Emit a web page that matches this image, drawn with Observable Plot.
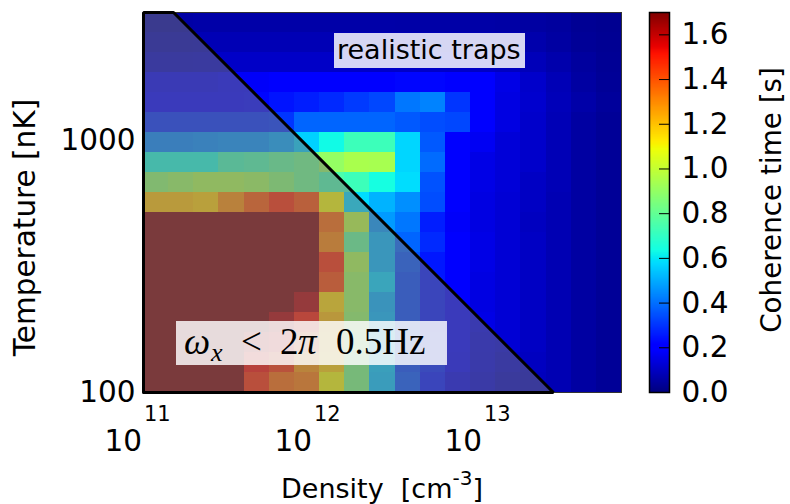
<!DOCTYPE html>
<html><head><meta charset="utf-8">
<script src="https://cdn.jsdelivr.net/npm/d3@7"></script>
<script src="https://cdn.jsdelivr.net/npm/@observablehq/plot@0.6"></script>
<style>
html,body{margin:0;padding:0;background:#fff;}
#wrap{position:relative;width:790px;height:504px;}
#wrap svg{position:absolute;left:0;top:0;}
.cells rect{shape-rendering:crispEdges;}
</style></head><body><div id="wrap"></div>
<script>
// ---- grid (log10 of cell edges) ----
const densityLogEdges = [11.000, 11.148, 11.296, 11.444, 11.592, 11.740, 11.888, 12.036, 12.184, 12.332, 12.480, 12.628, 12.776, 12.924, 13.072, 13.220, 13.368, 13.516, 13.664, 13.812];
const temperatureLogEdges = [2.000, 2.079, 2.159, 2.238, 2.317, 2.397, 2.476, 2.556, 2.635, 2.714, 2.794, 2.873, 2.952, 3.032, 3.111, 3.190, 3.270, 3.349, 3.429, 3.508];

// ---- coherence time [s], rows from highest temperature (top) to lowest (bottom) ----
const coherence = [
  [0.055,0.055,0.06,0.06,0.06,0.06,0.06,0.06,0.06,0.06,0.058,0.058,0.058,0.058,0.055,0.05,0.045,0.03,0.025],
  [0.075,0.075,0.078,0.078,0.078,0.078,0.078,0.078,0.078,0.078,0.078,0.078,0.078,0.078,0.075,0.065,0.05,0.035,0.028],
  [0.10,0.10,0.105,0.105,0.105,0.105,0.105,0.105,0.105,0.105,0.105,0.105,0.105,0.10,0.095,0.085,0.065,0.045,0.032],
  [0.17,0.17,0.17,0.18,0.18,0.19,0.19,0.20,0.20,0.21,0.22,0.22,0.205,0.19,0.15,0.11,0.08,0.05,0.035],
  [0.21,0.21,0.21,0.21,0.22,0.245,0.26,0.28,0.31,0.33,0.41,0.43,0.30,0.20,0.145,0.115,0.085,0.06,0.04],
  [0.29,0.29,0.29,0.29,0.29,0.30,0.38,0.38,0.38,0.38,0.36,0.34,0.33,0.19,0.145,0.11,0.08,0.05,0.035],
  [0.44,0.44,0.45,0.46,0.46,0.49,0.56,0.63,0.72,0.72,0.57,0.36,0.21,0.17,0.13,0.11,0.08,0.05,0.035],
  [0.65,0.65,0.65,0.73,0.75,0.79,0.82,0.90,0.945,0.94,0.57,0.39,0.20,0.15,0.13,0.11,0.08,0.05,0.035],
  [0.89,0.92,0.95,0.95,0.93,0.875,0.82,0.75,0.72,0.64,0.58,0.35,0.20,0.15,0.13,0.10,0.08,0.05,0.035],
  [1.20,1.20,1.18,1.29,1.39,1.47,1.41,1.10,0.58,0.51,0.45,0.34,0.19,0.145,0.125,0.10,0.075,0.05,0.035],
  [1.7,1.7,1.7,1.7,1.7,1.7,1.7,1.36,0.98,0.47,0.41,0.26,0.18,0.145,0.125,0.095,0.075,0.05,0.035],
  [1.7,1.7,1.7,1.7,1.7,1.7,1.7,1.31,0.80,0.52,0.38,0.28,0.19,0.15,0.125,0.10,0.075,0.05,0.035],
  [1.7,1.7,1.7,1.7,1.7,1.7,1.7,1.47,0.95,0.52,0.35,0.25,0.19,0.15,0.125,0.10,0.075,0.05,0.035],
  [1.7,1.7,1.7,1.7,1.7,1.7,1.7,1.42,0.92,0.57,0.33,0.25,0.19,0.145,0.125,0.10,0.075,0.05,0.035],
  [1.7,1.7,1.7,1.7,1.7,1.7,1.62,1.16,0.92,0.51,0.33,0.25,0.19,0.145,0.125,0.10,0.075,0.05,0.035],
  [1.7,1.7,1.7,1.7,1.7,1.62,1.50,1.21,0.90,0.52,0.33,0.25,0.19,0.15,0.125,0.10,0.075,0.05,0.035],
  [1.7,1.7,1.7,1.7,1.60,1.55,1.40,1.20,0.88,0.53,0.33,0.26,0.19,0.14,0.125,0.10,0.075,0.05,0.035],
  [1.7,1.7,1.7,1.7,1.52,1.46,1.28,1.18,0.85,0.55,0.33,0.27,0.18,0.135,0.11,0.095,0.075,0.05,0.035],
  [1.7,1.7,1.7,1.7,1.47,1.36,1.33,1.10,0.85,0.54,0.35,0.25,0.155,0.125,0.095,0.09,0.075,0.05,0.035]
];

// ---- "realistic traps" boundary (omega_x < 2pi 0.5 Hz region) ----
const boundaryDensity = [1e11, 1.502e11, 2.58e13];
const boundaryTemperature = [3221, 3221, 100];

// ---- ticks ----
const xTickValues = [1e11, 1e12, 1e13];
const xTickExponents = ["11", "12", "13"];
const yTickValues = [100, 1000];
const colorbarTicks = [0, 0.2, 0.4, 0.6, 0.8, 1.0, 1.2, 1.4, 1.6];
const colorMax = 1.7;

// ---- matplotlib "jet" ----
function seg(t, pts){
  for (let i = 1; i < pts.length; i++) {
    if (t <= pts[i][0]) { const [t0,v0] = pts[i-1], [t1,v1] = pts[i]; return v0 + (v1 - v0) * (t - t0) / (t1 - t0); }
  }
  return pts[pts.length-1][1];
}
function jet(t){
  t = Math.max(0, Math.min(1, t));
  const r = seg(t, [[0,0],[0.35,0],[0.66,1],[0.89,1],[1,0.5]]);
  const g = seg(t, [[0,0],[0.125,0],[0.375,1],[0.64,1],[0.91,0],[1,0]]);
  const b = seg(t, [[0,0.5],[0.11,1],[0.34,1],[0.65,0],[1,0]]);
  return `rgb(${Math.round(r*255)},${Math.round(g*255)},${Math.round(b*255)})`;
}

const cells = [];
coherence.forEach((row, r) => {
  const j = temperatureLogEdges.length - 2 - r;
  row.forEach((v, c) => cells.push({
    x1: 10 ** densityLogEdges[c], x2: 10 ** densityLogEdges[c + 1],
    y1: 10 ** temperatureLogEdges[j], y2: 10 ** temperatureLogEdges[j + 1], value: v
  }));
});
const boundary = boundaryDensity.map((d, i) => ({density: d, temp: boundaryTemperature[i]}));
const yMin = 10 ** temperatureLogEdges[0];
const outline = [{density: boundaryDensity[0], temp: yMin}, ...boundary, {density: boundaryDensity[0], temp: yMin}];

const colorOpts = {type: "linear", domain: [0, colorMax], interpolate: jet, clamp: true};
const sansStyle = {fontFamily: "DejaVu Sans", fontSize: "29.5px", background: "transparent", overflow: "visible"};

const main = Plot.plot({
  width: 790, height: 504,
  marginLeft: 143, marginRight: 169, marginTop: 12, marginBottom: 112,
  style: sansStyle,
  x: {type: "log", domain: [10 ** densityLogEdges[0], 10 ** densityLogEdges[densityLogEdges.length - 1]], axis: null},
  y: {type: "log", domain: [yMin, 10 ** temperatureLogEdges[temperatureLogEdges.length - 1]], axis: null},
  color: colorOpts,
  marks: [
    Plot.rect(cells, {x1: "x1", x2: "x2", y1: "y1", y2: "y2", fill: "value", className: "cells"}),
    Plot.areaY(boundary, {x: "density", y1: yMin, y2: "temp", fill: "#737378", fillOpacity: 0.5}),
    Plot.frame({stroke: "#333", strokeWidth: 1}),
    Plot.line(outline, {x: "density", y: "temp", stroke: "black", strokeWidth: 3, strokeLinejoin: "miter"}),
    Plot.axisY(yTickValues, {tickSize: 0, tickPadding: 8, tickFormat: d => String(d), label: null, fontSize: 29.5})
  ]
});

const cb = Plot.plot({
  width: 790, height: 504,
  marginLeft: 649, marginRight: 121, marginTop: 12, marginBottom: 112,
  style: sansStyle,
  x: {domain: [0, 1], axis: null},
  y: {domain: [0, colorMax], axis: null},
  color: colorOpts,
  marks: [
    Plot.rect(d3.range(0, colorMax, 0.005), {x1: 0, x2: 1, y1: d => d, y2: d => Math.min(colorMax, d + 0.01), fill: d => d + 0.0025}),
    Plot.ruleY(colorbarTicks, {x1: 0.5, x2: 1, stroke: "black", strokeWidth: 1}),
    Plot.frame({stroke: "black", strokeWidth: 1.5}),
    Plot.axisY(colorbarTicks, {anchor: "right", tickSize: 0, tickPadding: 12, tickFormat: ".1f", label: null, fontSize: 29.5})
  ]
});

const wrap = document.getElementById("wrap");
wrap.appendChild(main);
wrap.appendChild(cb);

// ---- annotations and axis labels ----
const svg = d3.select(main);
const xs = main.scale("x");
const g = svg.append("g").attr("font-family", "DejaVu Sans").attr("fill", "black").attr("text-anchor", "start");
xTickValues.forEach((v, i) => {
  const px = xs.apply(v);
  g.append("text").attr("x", px - 1).attr("y", 451).attr("text-anchor", "end").attr("font-size", 29.5).text("10");
  g.append("text").attr("x", px + 1).attr("y", 421).attr("text-anchor", "start").attr("font-size", 21).text(xTickExponents[i]);
});

g.append("text").attr("transform", "translate(34.5,227.5) rotate(-90)").attr("text-anchor", "middle")
  .attr("font-size", 29.5).text("Temperature [nK]");

const dl = g.append("text").attr("x", 281).attr("y", 497.5).attr("font-size", 27).attr("text-anchor", "start");
dl.append("tspan").text("Density\u00A0 [cm");
dl.append("tspan").attr("font-size", 20).attr("dy", -13).text("-3");
dl.append("tspan").attr("dy", 13).text("]");

d3.select(cb).append("text").attr("transform", "translate(781,200) rotate(-90)").attr("text-anchor", "middle")
  .attr("font-family", "DejaVu Sans").attr("font-size", 27.8).attr("fill", "black").text("Coherence time [s]");

// realistic traps label
g.append("rect").attr("x", 334).attr("y", 33).attr("width", 191).attr("height", 35).attr("fill", "white").attr("fill-opacity", 0.84);
g.append("text").attr("x", 337).attr("y", 59).attr("font-size", 27).attr("text-anchor", "start").text("realistic traps");

// omega_x label
g.append("rect").attr("x", 176).attr("y", 321).attr("width", 271).attr("height", 44).attr("fill", "white").attr("fill-opacity", 0.82);
const om = g.append("text").attr("y", 354).attr("font-family", "Liberation Serif").attr("font-size", 37).attr("text-anchor", "start");
om.append("tspan").attr("x", 184).attr("font-style", "italic").text("ω");
om.append("tspan").attr("x", 211).attr("dy", 7).attr("font-size", 26).attr("font-style", "italic").text("x");
om.append("tspan").attr("x", 241).attr("dy", -7).text("<");
om.append("tspan").attr("x", 280).text("2");
om.append("tspan").attr("x", 298).attr("font-style", "italic").text("π");
om.append("tspan").attr("x", 336).text("0.5Hz");
</script></body></html>
